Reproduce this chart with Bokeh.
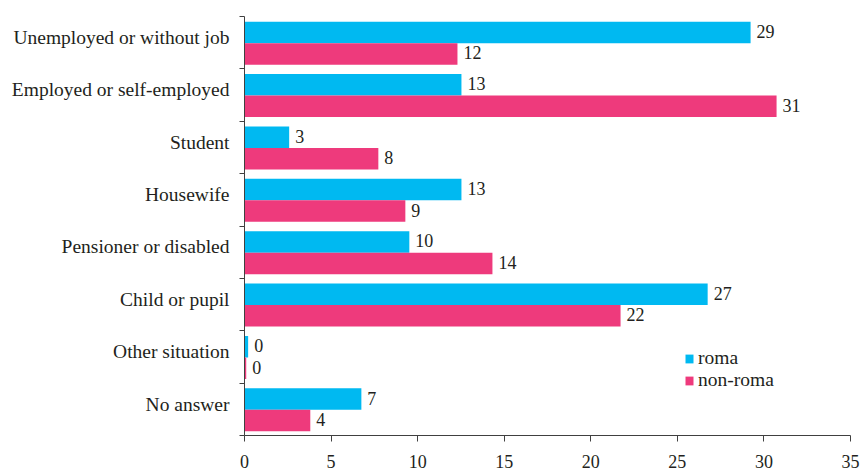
from bokeh.plotting import figure
from bokeh.models import Range1d, FixedTicker, ColumnDataSource, Legend, LegendItem, LabelSet
from bokeh.embed import file_html
from bokeh.resources import INLINE

categories = ["Unemployed or without job", "Employed or self-employed", "Student", "Housewife",
              "Pensioner or disabled", "Child or pupil", "Other situation", "No answer"]
roma = [29.23, 12.53, 2.58, 12.53, 9.52, 26.75, 0.21, 6.75]
non_roma = [12.3, 30.73, 7.73, 9.29, 14.32, 21.72, 0.1, 3.8]
roma_labels = ["29", "13", "3", "13", "10", "27", "0", "7"]
non_roma_labels = ["12", "31", "8", "9", "14", "22", "0", "4"]
x_ticks = [0, 5, 10, 15, 20, 25, 30, 35]

FONT = "Liberation Serif"
TEXT = "#231f20"
AXIS = "#404040"
C_ROMA = "#00b9f1"
C_NON = "#ee3a7c"

n = len(categories)
centers = [n - i - 0.5 for i in range(n)]
label_pos = [c + 0.1 for c in centers]
bar_h = 0.41

src_r = ColumnDataSource(dict(y=[c + 0.195 for c in centers], v=roma, lab=roma_labels))
src_n = ColumnDataSource(dict(y=[c - 0.215 for c in centers], v=non_roma, lab=non_roma_labels))

p = figure(width=860, height=470, x_range=Range1d(0, 35), y_range=Range1d(0, n),
           output_backend="svg", toolbar_location=None,
           min_border_left=244, min_border_top=16, min_border_right=10, min_border_bottom=33)
p.outline_line_color = None
p.xgrid.visible = False
p.ygrid.visible = False
p.background_fill_color = None
p.border_fill_color = "white"

r1 = p.hbar(y="y", right="v", left=0, height=bar_h, source=src_r, fill_color=C_ROMA, line_color=None)
r2 = p.hbar(y="y", right="v", left=0, height=bar_h, source=src_n, fill_color=C_NON, line_color=None)

for src in (src_r, src_n):
    lbl = LabelSet(x="v", y="y", text="lab", source=src, x_offset=6, y_offset=1,
                   text_font=FONT, text_font_size="18px", text_color=TEXT,
                   text_baseline="middle", text_align="left")
    p.add_layout(lbl)

# y axis
ya = p.yaxis[0]
ya.ticker = FixedTicker(ticks=label_pos, minor_ticks=list(range(n + 1)))
ya.major_label_overrides = {c: name for c, name in zip(label_pos, categories)}
ya.major_tick_out = 0
ya.major_tick_in = 0
ya.minor_tick_out = 5
ya.minor_tick_in = 0
ya.minor_tick_line_color = AXIS
ya.axis_line_color = AXIS
ya.major_label_standoff = 10
ya.major_label_text_font = FONT
ya.major_label_text_font_size = "19.5px"
ya.major_label_text_color = TEXT

# x axis
xa = p.xaxis[0]
xa.ticker = FixedTicker(ticks=x_ticks)
xa.major_tick_out = 6
xa.major_tick_in = 0
xa.minor_tick_out = 0
xa.minor_tick_in = 0
xa.axis_line_color = AXIS
xa.major_tick_line_color = AXIS
xa.major_label_standoff = 13
xa.major_label_text_font = FONT
xa.major_label_text_font_size = "18px"
xa.major_label_text_color = TEXT

legend = Legend(items=[LegendItem(label="roma", renderers=[r1]),
                       LegendItem(label="non-roma", renderers=[r2])],
                location=(440, 44), glyph_width=10, glyph_height=11, label_standoff=4,
                spacing=0, padding=0, margin=0, label_height=20,
                border_line_alpha=0, background_fill_alpha=0,
                label_text_font=FONT, label_text_font_size="19.5px", label_text_color=TEXT)
p.add_layout(legend)

open("out.html", "w").write(file_html(p, INLINE))
